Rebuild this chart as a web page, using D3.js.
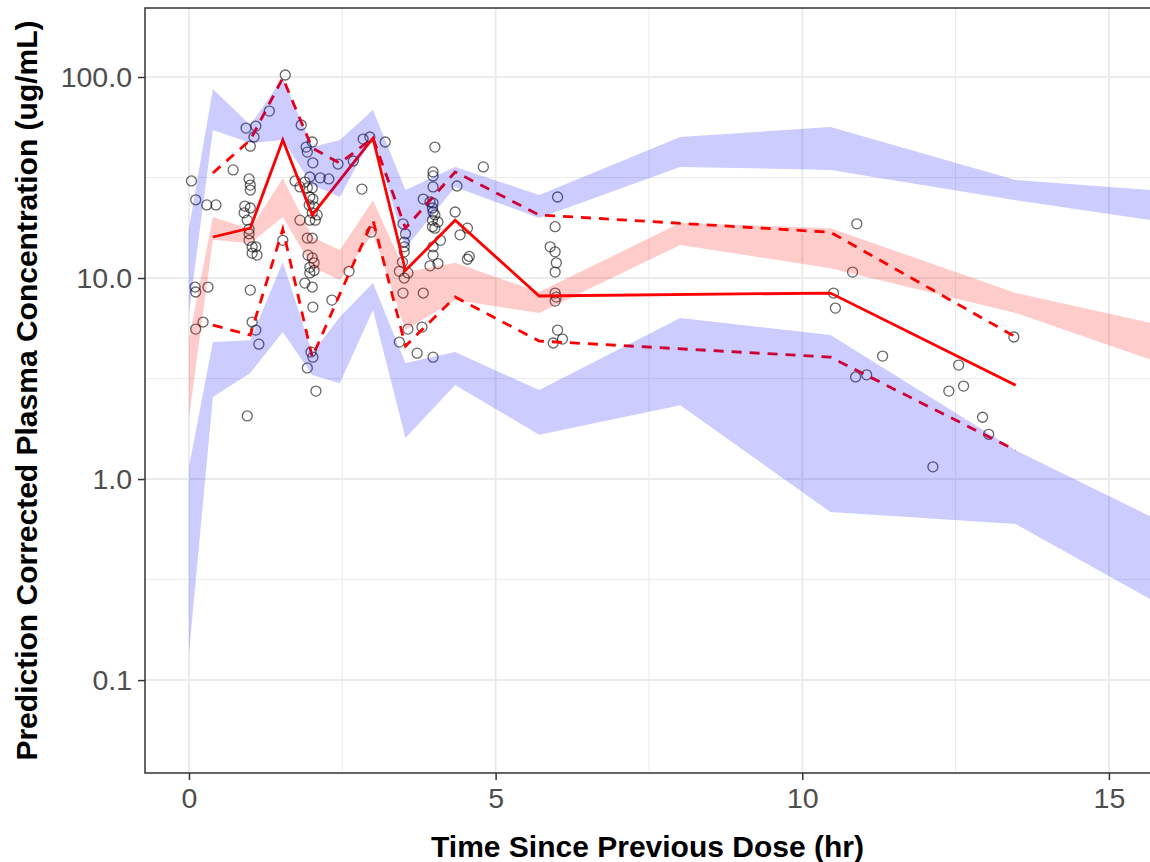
<!DOCTYPE html>
<html>
<head>
<meta charset="utf-8">
<script src="https://cdn.jsdelivr.net/npm/d3@7"></script>
<style>
	body { margin: 0; background: #fff; }
	svg { display: block; font-family: "Liberation Sans", Arial, Helvetica, sans-serif; }
</style>
</head>
<body>
<svg id="chart" width="1150" height="862"></svg>
<script>
// observed concentrations
var obsTime = [
	0.04, 0.11, 0.29, 0.44, 0.10, 0.11, 0.31, 0.23, 0.11,
	0.93, 1.09, 1.06, 1.00, 0.72, 0.98, 1.00, 1.00, 0.91, 1.00, 0.90, 0.95, 0.98, 0.98, 0.98,
	1.03, 1.09, 1.03, 1.11, 1.00, 1.03, 1.09, 1.14, 0.95, 1.31, 1.57,
	1.83, 2.01, 1.91, 1.93, 2.02, 1.73, 1.89, 1.97, 2.14, 2.28, 1.81, 1.93, 2.01, 1.97, 2.02,
	1.96, 2.04, 2.01, 2.09, 1.97, 2.06, 1.81, 1.93, 2.01, 1.94, 2.01, 2.04, 1.97, 2.04, 1.97,
	1.89, 2.01, 2.02, 1.99, 2.02, 1.93, 2.07, 1.53, 2.33, 2.61, 2.43, 2.68, 2.82, 2.84, 2.95,
	3.20, 2.97,
	3.49, 3.53, 3.51, 3.51, 3.51, 3.48, 3.43, 3.57, 3.51, 3.49, 3.82, 3.57, 3.80, 3.43, 3.72, 3.98,
	4.01, 3.98, 3.98, 3.98, 3.82, 3.93, 3.98, 3.97, 3.98, 4.01, 3.97, 4.06, 3.97, 4.01, 4.10,
	3.98, 3.98, 3.93, 4.06, 4.37, 4.34, 4.42, 4.54, 4.57, 4.54, 4.80,
	6.01, 5.97, 5.89, 5.97, 5.99, 5.97, 5.97, 5.99, 5.97, 6.01, 6.09, 5.94,
	10.89, 10.82, 10.51, 10.54, 11.31, 10.87, 11.05, 12.55, 12.63, 12.39, 12.94, 13.04, 12.13, 13.45
];
var obsConc = [
	30.4, 24.5, 23.1, 23.1, 9.02, 8.52, 9.02, 6.04, 5.57,
	55.7, 57.0, 50.3, 45.3, 34.5, 31.1, 29.0, 27.4, 22.8, 22.3, 21.1, 19.4, 17.5, 16.6, 15.4,
	14.3, 14.3, 13.3, 13.0, 8.71, 6.04, 5.51, 4.69, 2.06, 67.7, 102.3,
	57.7, 47.5, 44.8, 42.3, 37.4, 30.4, 30.0, 31.8, 31.5, 31.1, 28.4, 28.1, 28.1, 25.3, 24.7,
	23.1, 22.6, 21.1, 20.6, 19.4, 19.4, 19.4, 15.8, 15.8, 13.0, 12.6, 11.9, 11.3, 10.9, 10.6,
	9.44, 9.02, 7.17, 4.28, 4.04, 3.57, 2.74, 15.4, 7.77, 10.8, 36.9, 38.2, 27.7, 49.1, 50.3,
	47.5, 16.9,
	18.6, 16.6, 15.1, 14.3, 13.5, 12.0, 10.8, 10.6, 10.0, 8.42, 8.42, 5.57, 5.70, 4.80, 4.23, 4.04,
	44.8, 33.7, 32.2, 28.4, 24.7, 23.9, 23.6, 22.3, 21.3, 20.6, 19.4, 19.0, 18.0, 17.7, 15.4,
	14.3, 13.0, 11.5, 11.8, 28.7, 21.3, 16.4, 17.7, 12.8, 12.4, 35.7,
	25.3, 18.0, 14.3, 13.5, 11.9, 10.7, 8.42, 8.04, 7.68, 5.51, 4.97, 4.75,
	18.6, 10.7, 8.42, 7.09, 4.09, 3.22, 3.30, 3.69, 2.90, 2.74, 2.03, 1.67, 1.15, 5.09
];

// observed percentile lines (5th, 50th, 95th)
var obsBins = [0.39, 1.0, 1.53, 2.01, 2.46, 3.0, 3.53, 4.34, 5.71, 10.46, 13.48];
var obsMedian = [16.0, 17.7, 48.6, 20.6, 30.7, 49.7, 10.9, 19.4, 8.14, 8.42, 2.93];
var obsHigh = [33.3, 48.6, 98.9, 44.3, 37.3, 49.7, 17.7, 33.7, 20.6, 16.9, 5.09];
var obsLow = [5.83, 5.20, 17.5, 4.04, 8.32, 19.4, 4.59, 8.04, 4.86, 4.04, 1.39];

// simulated confidence intervals
var simBins = [0, 0.39, 1.0, 1.53, 2.01, 2.46, 3.0, 3.53, 4.34, 5.71, 8.01, 10.46, 13.48, 15.7];
var hiCiUpper = [17.7, 87.2, 57.7, 98.9, 44.8, 48.6, 68.5, 27.4, 35.7, 25.9, 50.3, 56.4, 30.7, 27.4];
var hiCiLower = [6.70, 54.5, 46.9, 48.6, 29.0, 25.3, 51.4, 14.1, 28.4, 19.9, 35.7, 34.5, 24.4, 19.4];
var medCiUpper = [5.0, 20.1, 17.5, 31.4, 16.0, 13.8, 24.4, 10.7, 11.9, 8.52, 18.8, 17.7, 8.42, 5.97];
var medCiLower = [2.01, 15.5, 14.9, 20.1, 11.3, 9.77, 16.7, 5.51, 7.77, 6.70, 14.6, 11.2, 6.70, 3.91];
var loCiUpper = [1.15, 4.80, 4.91, 12.0, 4.24, 6.40, 9.44, 3.78, 4.28, 2.77, 6.32, 5.20, 1.39, 0.647];
var loCiLower = [0.136, 2.56, 3.37, 5.39, 3.29, 3.00, 6.93, 1.60, 2.94, 1.66, 2.33, 0.685, 0.597, 0.250];

var xTicks = [0, 5, 10, 15];
var xMinor = [2.5, 7.5, 12.5];
var yTicks = [0.1, 1, 10, 100];
var yTickLabels = ["0.1", "1.0", "10.0", "100.0"];
var yMinor = [0.316, 3.16, 31.6];

var panel = { left: 145, top: 8, right: 1150, bottom: 773 };

var svg = d3.select("#chart");

var x = d3.scaleLinear()
	.domain([-0.717, 15.67])
	.range([panel.left, panel.right]);

var y = d3.scaleLog()
	.domain([0.0345, 220.4])
	.range([panel.bottom, panel.top]);

svg.append("defs")
	.append("clipPath")
	.attr("id", "panel-clip")
	.append("rect")
	.attr("x", panel.left)
	.attr("y", panel.top)
	.attr("width", panel.right - panel.left)
	.attr("height", panel.bottom - panel.top);

// Grid
var grid = svg.append("g").attr("class", "grid");

grid.selectAll("line.xminor")
	.data(xMinor)
	.enter()
	.append("line")
	.attr("x1", d => x(d)).attr("x2", d => x(d))
	.attr("y1", panel.top).attr("y2", panel.bottom)
	.style("stroke", "#ebebeb").style("stroke-width", 1);

grid.selectAll("line.yminor")
	.data(yMinor)
	.enter()
	.append("line")
	.attr("y1", d => y(d)).attr("y2", d => y(d))
	.attr("x1", panel.left).attr("x2", panel.right)
	.style("stroke", "#ebebeb").style("stroke-width", 1);

grid.selectAll("line.xmajor")
	.data(xTicks)
	.enter()
	.append("line")
	.attr("x1", d => x(d)).attr("x2", d => x(d))
	.attr("y1", panel.top).attr("y2", panel.bottom)
	.style("stroke", "#ebebeb").style("stroke-width", 2);

grid.selectAll("line.ymajor")
	.data(yTicks)
	.enter()
	.append("line")
	.attr("y1", d => y(d)).attr("y2", d => y(d))
	.attr("x1", panel.left).attr("x2", panel.right)
	.style("stroke", "#ebebeb").style("stroke-width", 2);

var plot = svg.append("g").attr("clip-path", "url(#panel-clip)");

// Observed points
plot.append("g")
	.selectAll("circle")
	.data(obsTime.map((t, i) => [t, obsConc[i]]))
	.enter()
	.append("circle")
	.attr("cx", d => x(d[0]))
	.attr("cy", d => y(d[1]))
	.attr("r", 5)
	.style("fill", "none")
	.style("stroke", "#000")
	.style("stroke-opacity", 0.6)
	.style("stroke-width", 1.3);

// Observed percentile lines
var line = d3.line()
	.x(d => x(d[0]))
	.y(d => y(d[1]));

function obsPath(values, dashed) {
	plot.append("path")
		.attr("d", line(obsBins.map((b, i) => [b, values[i]])))
		.style("fill", "none")
		.style("stroke", "#ff0000")
		.style("stroke-width", 2.8)
		.style("stroke-dasharray", dashed ? "10,8" : null);
}

obsPath(obsMedian, false);
obsPath(obsHigh, true);
obsPath(obsLow, true);

// Simulated CI ribbons, drawn last so they tint what is below
var area = d3.area()
	.x(d => x(d[0]))
	.y0(d => y(d[1]))
	.y1(d => y(d[2]));

function ribbon(upper, lower, colour) {
	plot.append("path")
		.attr("d", area(simBins.map((b, i) => [b, lower[i], upper[i]])))
		.style("fill", colour)
		.style("fill-opacity", 0.2)
		.style("stroke", "none");
}

ribbon(hiCiUpper, hiCiLower, "#0000ff");
ribbon(medCiUpper, medCiLower, "#ff0000");
ribbon(loCiUpper, loCiLower, "#0000ff");

// Panel border
svg.append("rect")
	.attr("x", panel.left)
	.attr("y", panel.top)
	.attr("width", panel.right - panel.left + 2)
	.attr("height", panel.bottom - panel.top)
	.style("fill", "none")
	.style("stroke", "#333333")
	.style("stroke-width", 1.5);

// Axes
var xAxis = svg.append("g")
	.attr("transform", "translate(0," + panel.bottom + ")")
	.call(d3.axisBottom(x).tickValues(xTicks).tickSize(7).tickPadding(8).tickFormat(d3.format("d")));

var yAxis = svg.append("g")
	.attr("transform", "translate(" + panel.left + ",0)")
	.call(d3.axisLeft(y).tickValues(yTicks).tickSize(7).tickPadding(6)
		.tickFormat((d, i) => yTickLabels[i]));

[xAxis, yAxis].forEach(function(g) {
	g.select(".domain").remove();
	g.selectAll(".tick line").style("stroke", "#333333").style("stroke-width", 1.5);
	g.selectAll(".tick text")
		.style("fill", "#4d4d4d")
		.style("font-size", "28.5px")
		.style("font-family", "'Liberation Sans', Arial, sans-serif");
});

// Titles
svg.append("text")
	.attr("x", (panel.left + panel.right) / 2)
	.attr("y", 857)
	.attr("text-anchor", "middle")
	.style("font-size", "30px")
	.style("font-weight", "bold")
	.style("fill", "#000")
	.text("Time Since Previous Dose (hr)");

svg.append("text")
	.attr("transform", "translate(37," + ((panel.top + panel.bottom) / 2) + ") rotate(-90)")
	.attr("text-anchor", "middle")
	.style("font-size", "30px")
	.style("font-weight", "bold")
	.style("fill", "#000")
	.text("Prediction Corrected Plasma Concentration (ug/mL)");
</script>
</body>
</html>
